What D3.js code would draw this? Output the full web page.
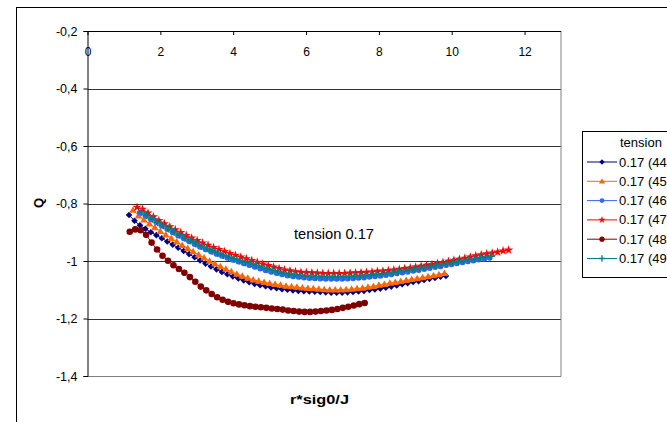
<!DOCTYPE html>
<html lang="en">
<head>
<meta charset="utf-8" />
<script src="https://cdn.jsdelivr.net/npm/d3@7"></script>
<style>
  body { margin: 0; background: #fff; }
  text { font-family: "Liberation Sans", Arial, sans-serif; fill: #000; }
</style>
</head>
<body>
<script>
// x tick values / y tick values and their labels (comma decimals as in the original)
var xTicks = [0, 2, 4, 6, 8, 10, 12];
var yTicks = [-0.2, -0.4, -0.6, -0.8, -1, -1.2, -1.4];
var yTickLabels = ["-0,2", "-0,4", "-0,6", "-0,8", "-1", "-1,2", "-1,4"];
var seriesNames = ["0.17 (44)", "0.17 (45)", "0.17 (46)", "0.17 (47)", "0.17 (48)", "0.17 (49)"];

// series values: [r*sig0/J, Q]
var q44 = [[1.14,-0.840],[1.29,-0.860],[1.44,-0.876],[1.59,-0.888],[1.74,-0.900],[1.89,-0.910],[2.04,-0.921],[2.19,-0.932],[2.34,-0.943],[2.49,-0.954],
  [2.64,-0.965],[2.79,-0.976],[2.94,-0.987],[3.09,-0.998],[3.24,-1.009],[3.39,-1.019],[3.54,-1.029],[3.69,-1.038],[3.84,-1.046],[3.99,-1.054],
  [4.14,-1.061],[4.29,-1.068],[4.44,-1.074],[4.59,-1.080],[4.74,-1.084],[4.89,-1.088],[5.04,-1.092],[5.19,-1.095],[5.34,-1.098],[5.49,-1.100],
  [5.64,-1.102],[5.79,-1.104],[5.94,-1.105],[6.09,-1.106],[6.24,-1.107],[6.39,-1.108],[6.54,-1.109],[6.69,-1.110],[6.84,-1.110],[6.99,-1.110],
  [7.14,-1.109],[7.29,-1.108],[7.44,-1.106],[7.59,-1.104],[7.74,-1.101],[7.89,-1.099],[8.04,-1.096],[8.19,-1.093],[8.34,-1.089],[8.49,-1.085],
  [8.64,-1.081],[8.79,-1.077],[8.94,-1.073],[9.09,-1.070],[9.24,-1.066],[9.39,-1.062],[9.54,-1.059],[9.69,-1.055],[9.84,-1.052]];
var q45 = [[1.25,-0.823],[1.40,-0.843],[1.55,-0.857],[1.70,-0.871],[1.85,-0.884],[2.00,-0.897],[2.15,-0.909],[2.30,-0.921],[2.45,-0.933],[2.60,-0.945],
  [2.75,-0.956],[2.90,-0.967],[3.05,-0.978],[3.20,-0.989],[3.35,-1.000],[3.50,-1.010],[3.65,-1.019],[3.80,-1.028],[3.95,-1.037],[4.10,-1.045],
  [4.25,-1.052],[4.40,-1.059],[4.55,-1.065],[4.70,-1.070],[4.85,-1.074],[5.00,-1.078],[5.15,-1.081],[5.30,-1.084],[5.45,-1.087],[5.60,-1.089],
  [5.75,-1.091],[5.90,-1.093],[6.05,-1.095],[6.20,-1.096],[6.35,-1.098],[6.50,-1.099],[6.65,-1.100],[6.80,-1.100],[6.95,-1.100],[7.10,-1.099],
  [7.25,-1.098],[7.40,-1.096],[7.55,-1.094],[7.70,-1.091],[7.85,-1.088],[8.00,-1.084],[8.15,-1.081],[8.30,-1.077],[8.45,-1.074],[8.60,-1.071],
  [8.75,-1.067],[8.90,-1.064],[9.05,-1.061],[9.20,-1.058],[9.35,-1.054],[9.50,-1.051],[9.65,-1.047],[9.80,-1.043]];
var q46 = [[1.44,-0.832],[1.59,-0.843],[1.74,-0.854],[1.89,-0.865],[2.04,-0.877],[2.19,-0.889],[2.34,-0.900],[2.49,-0.911],[2.64,-0.921],[2.79,-0.931],
  [2.94,-0.941],[3.09,-0.950],[3.24,-0.959],[3.39,-0.967],[3.54,-0.975],[3.69,-0.982],[3.84,-0.989],[3.99,-0.996],[4.14,-1.002],[4.29,-1.008],
  [4.44,-1.014],[4.59,-1.020],[4.74,-1.026],[4.89,-1.032],[5.04,-1.037],[5.19,-1.042],[5.34,-1.046],[5.49,-1.050],[5.64,-1.053],[5.79,-1.055],
  [5.94,-1.057],[6.09,-1.059],[6.24,-1.060],[6.39,-1.061],[6.54,-1.062],[6.69,-1.062],[6.84,-1.062],[6.99,-1.062],[7.14,-1.061],[7.29,-1.060],
  [7.44,-1.058],[7.59,-1.057],[7.74,-1.055],[7.89,-1.053],[8.04,-1.051],[8.19,-1.049],[8.34,-1.046],[8.49,-1.043],[8.64,-1.040],[8.79,-1.037],
  [8.94,-1.034],[9.09,-1.031],[9.24,-1.028],[9.39,-1.024],[9.54,-1.021],[9.69,-1.018],[9.84,-1.014],[9.99,-1.011],[10.14,-1.008],[10.29,-1.004],
  [10.44,-1.001],[10.59,-0.998],[10.74,-0.995],[10.89,-0.992],[11.04,-0.989]];
var q47 = [[1.36,-0.813],[1.51,-0.820],[1.66,-0.833],[1.81,-0.846],[1.96,-0.859],[2.11,-0.870],[2.26,-0.881],[2.41,-0.891],[2.56,-0.901],[2.71,-0.911],
  [2.86,-0.920],[3.01,-0.929],[3.16,-0.937],[3.31,-0.945],[3.46,-0.953],[3.61,-0.960],[3.76,-0.967],[3.91,-0.974],[4.06,-0.980],[4.21,-0.986],
  [4.36,-0.992],[4.51,-0.998],[4.66,-1.004],[4.81,-1.010],[4.96,-1.016],[5.11,-1.021],[5.26,-1.026],[5.41,-1.031],[5.56,-1.034],[5.71,-1.037],
  [5.86,-1.039],[6.01,-1.040],[6.16,-1.041],[6.31,-1.042],[6.46,-1.043],[6.61,-1.043],[6.76,-1.043],[6.91,-1.043],[7.06,-1.043],[7.21,-1.042],
  [7.36,-1.041],[7.51,-1.040],[7.66,-1.039],[7.81,-1.038],[7.96,-1.036],[8.11,-1.035],[8.26,-1.033],[8.41,-1.031],[8.56,-1.029],[8.71,-1.026],
  [8.86,-1.024],[9.01,-1.021],[9.16,-1.018],[9.31,-1.015],[9.46,-1.012],[9.61,-1.008],[9.76,-1.005],[9.91,-1.001],[10.06,-0.997],[10.21,-0.994],
  [10.36,-0.990],[10.51,-0.986],[10.66,-0.982],[10.81,-0.978],[10.96,-0.975],[11.11,-0.972],[11.26,-0.969],[11.41,-0.965],[11.56,-0.962]];
var q48 = [[1.16,-0.898],[1.31,-0.890],[1.46,-0.893],[1.61,-0.909],[1.76,-0.936],[1.91,-0.960],[2.06,-0.982],[2.21,-0.999],[2.36,-1.015],[2.51,-1.028],
  [2.66,-1.041],[2.81,-1.056],[2.96,-1.072],[3.11,-1.089],[3.26,-1.102],[3.41,-1.115],[3.56,-1.126],[3.71,-1.135],[3.86,-1.142],[4.01,-1.147],
  [4.16,-1.151],[4.31,-1.154],[4.46,-1.157],[4.61,-1.159],[4.76,-1.161],[4.91,-1.163],[5.06,-1.165],[5.21,-1.167],[5.36,-1.169],[5.51,-1.172],
  [5.66,-1.174],[5.81,-1.176],[5.96,-1.177],[6.11,-1.177],[6.26,-1.176],[6.41,-1.174],[6.56,-1.172],[6.71,-1.170],[6.86,-1.167],[7.01,-1.163],
  [7.16,-1.159],[7.31,-1.155],[7.46,-1.150],[7.61,-1.146]];
var q49 = [[1.48,-0.829],[1.63,-0.841],[1.78,-0.853],[1.93,-0.865],[2.08,-0.876],[2.23,-0.887],[2.38,-0.898],[2.53,-0.909],[2.68,-0.919],[2.83,-0.929],
  [2.98,-0.939],[3.13,-0.948],[3.28,-0.956],[3.43,-0.964],[3.58,-0.972],[3.73,-0.979],[3.88,-0.986],[4.03,-0.992],[4.18,-0.998],[4.33,-1.004],
  [4.48,-1.009],[4.63,-1.015],[4.78,-1.021],[4.93,-1.027],[5.08,-1.032],[5.23,-1.037],[5.38,-1.042],[5.53,-1.045],[5.68,-1.048],[5.83,-1.050],
  [5.98,-1.052],[6.13,-1.053],[6.28,-1.054],[6.43,-1.055],[6.58,-1.055],[6.73,-1.055],[6.88,-1.055],[7.03,-1.055],[7.18,-1.054],[7.33,-1.053],
  [7.48,-1.052],[7.63,-1.050],[7.78,-1.049],[7.93,-1.047],[8.08,-1.045],[8.23,-1.043],[8.38,-1.040],[8.53,-1.037],[8.68,-1.034],[8.83,-1.031],
  [8.98,-1.028],[9.13,-1.025],[9.28,-1.022],[9.43,-1.019],[9.58,-1.015],[9.73,-1.012],[9.88,-1.009],[10.03,-1.005],[10.18,-1.002],[10.33,-0.999],
  [10.48,-0.995],[10.63,-0.992],[10.78,-0.989],[10.93,-0.986],[11.08,-0.983]];

var allSeries = [q44, q45, q46, q47, q48, q49];

// styles per series (colour, marker kind)
var colors = ["#000080", "#FF6600", "#3366FF", "#FF0000", "#800000", "#008080"];
var markers = ["diamond", "triangle", "circle", "star", "bigcircle", "plus"];

var W = 667, H = 422;
var pLeft = 87.5, pRight = 561, pTop = 31, pBottom = 376;

var svg = d3.select("body").append("svg")
    .attr("width", W)
    .attr("height", H);

// chart area border (runs off the picture at right and bottom)
svg.append("rect")
    .attr("x", 16.5).attr("y", 7.5)
    .attr("width", 700).attr("height", 500)
    .attr("fill", "#fff").attr("stroke", "#000");

var x = d3.scaleLinear().domain([0, 13]).range([pLeft, pRight]);
var y = d3.scaleLinear().domain([-1.4, -0.2]).range([pBottom, pTop]);

//gridlines
svg.append("g").selectAll("line")
    .data(yTicks.slice(1, -1))
    .enter().append("line")
    .attr("x1", pLeft).attr("x2", pRight)
    .attr("y1", function(d) { return Math.round(y(d)) + 0.5; })
    .attr("y2", function(d) { return Math.round(y(d)) + 0.5; })
    .attr("stroke", "#333").attr("stroke-width", 1);

// plot border right + bottom (grey)
svg.append("path")
    .attr("d", "M" + pRight + "," + pTop + "V" + (pBottom + 0.5) + "H" + pLeft)
    .attr("fill", "none").attr("stroke", "#808080");

// x axis on top, labels under it
var xAxis = svg.append("g")
    .attr("transform", "translate(0," + pTop + ")")
    .call(d3.axisBottom(x).tickValues(xTicks).tickSize(4).tickPadding(12)
      .tickFormat(function(d) { return d; }));
xAxis.select(".domain").attr("d", "M" + pLeft + ",0.5H" + pRight);
xAxis.selectAll("text").style("font-size", "12px").attr("font-family", null);

// y axis
var yAxis = svg.append("g")
    .attr("transform", "translate(" + pLeft + ",0)")
    .call(d3.axisLeft(y).tickValues(yTicks).tickSize(4).tickPadding(6)
      .tickFormat(function(d, i) { return yTickLabels[i]; }));
yAxis.selectAll("text").style("font-size", "12.5px").attr("font-family", null);
svg.selectAll(".domain").attr("stroke", "#000");
svg.selectAll(".tick line").attr("stroke", "#000");

function drawMarker(g, kind, color) {
  if (kind == "diamond") {
    g.append("path").attr("d", "M0,-3.3L3.3,0L0,3.3L-3.3,0Z").attr("fill", color);
  } else if (kind == "triangle") {
    g.append("path").attr("d", "M0,-3.8L3.8,2.7L-3.8,2.7Z").attr("fill", color);
  } else if (kind == "circle") {
    g.append("circle").attr("r", 3).attr("fill", color);
  } else if (kind == "star") {
    g.append("path").attr("d", d3.symbol().type(d3.symbolStar).size(26)()).attr("fill", color);
  } else if (kind == "bigcircle") {
    g.append("circle").attr("r", 3.3).attr("fill", color);
  } else if (kind == "plus") {
    g.append("path").attr("d", "M-4,0H4M0,-4V4")
      .attr("stroke", color).attr("stroke-width", 1.6).attr("fill", "none");
  }
}

var line = d3.line()
    .x(function(d) { return x(d[0]); })
    .y(function(d) { return y(d[1]); });

allSeries.forEach(function(data, si) {
  var g = svg.append("g");
  g.append("path")
      .datum(data)
      .attr("d", line)
      .attr("fill", "none")
      .attr("stroke", colors[si])
      .attr("stroke-width", 1);
  g.selectAll("g.m")
      .data(data)
      .enter().append("g")
      .attr("class", "m")
      .attr("transform", function(d) { return "translate(" + x(d[0]) + "," + y(d[1]) + ")"; })
      .each(function() { drawMarker(d3.select(this), markers[si], colors[si]); });
});

// text label in the plot
svg.append("text")
    .attr("x", 294).attr("y", 239)
    .attr("textLength", 80).attr("lengthAdjust", "spacingAndGlyphs")
    .style("font-size", "14px")
    .text("tension 0.17");

// axis titles
svg.append("text")
    .attr("x", 290).attr("y", 404)
    .attr("textLength", 59).attr("lengthAdjust", "spacingAndGlyphs")
    .style("font-size", "13px").style("font-weight", "bold")
    .text("r*sig0/J");
svg.append("text")
    .attr("transform", "translate(43,203) rotate(-90)")
    .style("text-anchor", "middle")
    .style("font-size", "13px").style("font-weight", "bold")
    .text("Q");

// legend (its right part runs off the picture, as in the original)
var legend = svg.append("g");
legend.append("rect")
    .attr("x", 582.5).attr("y", 131.5)
    .attr("width", 120).attr("height", 146)
    .attr("fill", "#fff").attr("stroke", "#000");
legend.append("text")
    .attr("x", 620).attr("y", 147)
    .style("font-size", "13px")
    .text("tension");
seriesNames.forEach(function(name, i) {
  var ly = 162 + i * 19.3;
  legend.append("line")
      .attr("x1", 587).attr("x2", 617)
      .attr("y1", ly).attr("y2", ly)
      .attr("stroke", colors[i]);
  var mg = legend.append("g").attr("transform", "translate(602," + ly + ") scale(0.8)");
  drawMarker(mg, markers[i], colors[i]);
  legend.append("text")
      .attr("x", 619).attr("y", ly + 4.5)
      .style("font-size", "13px")
      .text(name);
});
</script>
</body>
</html>
